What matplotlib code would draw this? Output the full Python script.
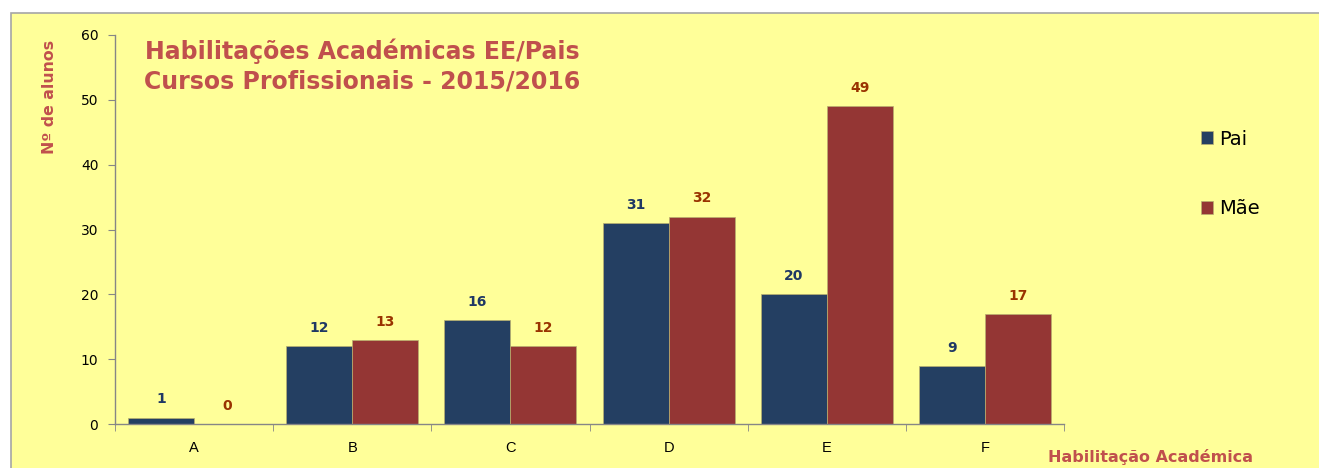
import numpy as np
import matplotlib.pyplot as plt
import matplotlib.patches as patches

categorias = ['A', 'B', 'C', 'D', 'E', 'F']
pai = [1, 12, 16, 31, 20, 9]
mae = [0, 13, 12, 32, 49, 17]
yticks = [0, 10, 20, 30, 40, 50, 60]

cor_pai = '#243F62'
cor_mae = '#943634'
cor_titulo = '#C0504D'

fig = plt.figure(figsize=(13.19, 4.68), dpi=100)
fig.patch.set_facecolor('white')

# painel amarelo com borda cinzenta
painel = patches.Rectangle((11 / 1319, -0.05), 1.1, 1 - 13 / 468 + 0.05,
                           transform=fig.transFigure, facecolor='#FFFF99',
                           edgecolor='#A6A6A6', linewidth=1.2, zorder=-10)
fig.patches.append(painel)

ax = fig.add_axes([115 / 1319, 1 - 424 / 468, 949 / 1319, 389 / 468])
ax.set_facecolor('none')

x = np.arange(len(categorias))
w = 0.417
b1 = ax.bar(x - w / 2, pai, width=w, color=cor_pai, label='Pai', zorder=2,
            edgecolor='#B8B070', linewidth=0.5)
b2 = ax.bar(x + w / 2, mae, width=w, color=cor_mae, label='Mãe', zorder=2,
            edgecolor='#B8B070', linewidth=0.5)

for rect, v in zip(b1, pai):
    ax.annotate(str(v), (rect.get_x() + rect.get_width() / 2, v), xytext=(0, 8),
                textcoords='offset points', ha='center', va='bottom',
                fontsize=10, fontweight='bold', color='#1F3864')
for rect, v in zip(b2, mae):
    ax.annotate(str(v), (rect.get_x() + rect.get_width() / 2, v), xytext=(0, 8),
                textcoords='offset points', ha='center', va='bottom',
                fontsize=10, fontweight='bold', color='#993300')

ax.set_xlim(-0.5, len(categorias) - 0.5)
ax.set_ylim(0, 60)
ax.set_yticks(yticks)
ax.set_xticks(x)
ax.set_xticklabels(categorias)
ax.set_xticks(np.arange(len(categorias) + 1) - 0.5, minor=True)
ax.tick_params(axis='x', which='major', length=0, pad=12)
ax.tick_params(axis='x', which='minor', length=5, color='#868686', direction='out')
ax.tick_params(axis='y', length=5, color='#868686', direction='out', pad=7)
for lab in ax.get_xticklabels():
    lab.set_family('Liberation Sans')
    lab.set_fontsize(10.5)
    lab.set_color('black')
for lab in ax.get_yticklabels():
    lab.set_fontsize(10)
    lab.set_color('black')

for s in ['top', 'right']:
    ax.spines[s].set_visible(False)
for s in ['left', 'bottom']:
    ax.spines[s].set_color('#868686')
    ax.spines[s].set_linewidth(1)

fig.text(362 / 1319, 1 - 66 / 468, 'Habilitações Académicas EE/Pais\nCursos Profissionais - 2015/2016',
         ha='center', va='center', fontsize=17, fontweight='bold', color=cor_titulo,
         linespacing=1.3)
fig.text(50 / 1319, 1 - 97 / 468, 'Nº de alunos', rotation=90, ha='center', va='center',
         fontsize=11.3, fontweight='bold', color=cor_titulo)
fig.text(1150 / 1319, 1 - 457 / 468, 'Habilitação Académica', ha='center', va='center',
         fontsize=11.5, fontweight='bold', color=cor_titulo)

leg = fig.legend(handles=[b1, b2], labels=['Pai', 'Mãe'], loc='center left',
                 bbox_to_anchor=(1183 / 1319, 1 - 174 / 468), frameon=False,
                 fontsize=14, handlelength=0.65, handleheight=0.65, handletextpad=0.3,
                 labelspacing=2.6)

fig.savefig('out.png', dpi=100)
